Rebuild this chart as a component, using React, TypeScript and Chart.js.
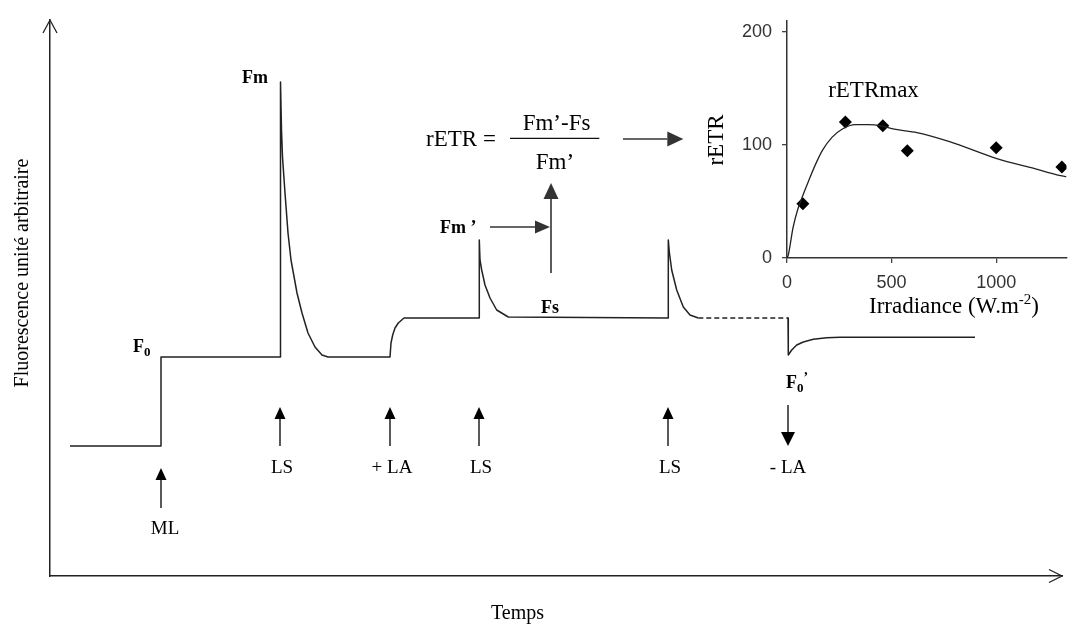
import React, { useEffect, useRef } from 'react';
import { Chart, registerables } from 'chart.js';

Chart.register(...registerables);

const SERIF = '"Liberation Serif", "Times New Roman", serif';
const SANS = '"Liberation Sans", Arial, sans-serif';

// ---------- main fluorescence trace (arbitrary time / arbitrary fluorescence units) ----------
const traceTime = [20, 111, 111, 230, 230.5, 231.5, 232.5, 235, 238, 241, 247, 252, 258, 265, 272, 278,
  340, 341, 342.7, 345, 348.3, 354, 429, 429.3, 430, 431.7, 435, 440, 446.7, 458.3,
  618, 618.3, 619.3, 621.7, 626.7, 633.3, 640, 648.3];
const traceFluo = [130, 130, 219, 219, 494, 446, 419, 383, 343, 316, 283, 263, 243, 229, 221, 219,
  219, 233, 241, 248, 253, 258, 258, 336, 316, 306, 291, 278, 266, 259,
  258, 336, 324, 306, 286, 269, 261, 258];

const darkTime = [648.3, 738];
const darkFluo = [258, 258];

const recoveryTime = [738, 738.3, 741.7, 746.7, 753.3, 763.3, 776.7, 790, 925];
const recoveryFluo = [258, 221, 226, 231, 234, 236.7, 238.3, 238.7, 238.7];

const eventTime = [111, 230, 340, 429, 618, 738];
const eventLabel = ['ML', 'LS', '+ LA', 'LS', 'LS', '- LA'];

// ---------- inset: rETR vs irradiance ----------
const irradiance = [76, 279, 458, 575, 1000, 1314];
const retrValues = [48, 120.5, 117, 95, 97.5, 80.5];
const fitIrradiance = [0, 6, 29, 53, 76, 107, 139, 170, 216, 263, 326, 388, 450, 513, 621, 777, 1003, 1167, 1307, 1336];
const fitRetr = [0, 2.6, 27, 44, 55.5, 70, 84, 95.5, 107, 114, 118, 118, 117, 114, 111, 103, 88, 80, 73, 72];
const insetXTicks = [0, 500, 1000];
const insetYTicks = [0, 100, 200];

const xy = (xs: number[], ys: number[]) => xs.map((x, i) => ({ x, y: ys[i] }));

function drawArrow(ctx: CanvasRenderingContext2D, x1: number, y1: number, x2: number, y2: number,
  len: number, half: number, color: string, lw: number) {
  const a = Math.atan2(y2 - y1, x2 - x1);
  const bx = x2 - len * Math.cos(a);
  const by = y2 - len * Math.sin(a);
  ctx.save();
  ctx.strokeStyle = color;
  ctx.fillStyle = color;
  ctx.lineWidth = lw;
  ctx.beginPath();
  ctx.moveTo(x1, y1);
  ctx.lineTo(bx, by);
  ctx.stroke();
  ctx.beginPath();
  ctx.moveTo(x2, y2);
  ctx.lineTo(bx + half * Math.sin(a), by - half * Math.cos(a));
  ctx.lineTo(bx - half * Math.sin(a), by + half * Math.cos(a));
  ctx.closePath();
  ctx.fill();
  ctx.restore();
}

function text(ctx: CanvasRenderingContext2D, s: string, x: number, y: number, font: string,
  align: CanvasTextAlign = 'center', color = '#000') {
  ctx.save();
  ctx.font = font;
  ctx.fillStyle = color;
  ctx.textAlign = align;
  ctx.textBaseline = 'alphabetic';
  ctx.fillText(s, x, y);
  const w = ctx.measureText(s).width;
  ctx.restore();
  return w;
}

const mainDecor = {
  id: 'mainDecor',
  afterDraw(chart: any) {
    const { ctx, chartArea, scales } = chart;
    const X = (v: number) => scales.x.getPixelForValue(v);
    const Y = (v: number) => scales.y.getPixelForValue(v);
    ctx.save();
    // axis arrow heads (open chevrons)
    ctx.strokeStyle = '#222';
    ctx.lineWidth = 1.3;
    ctx.beginPath();
    ctx.moveTo(chartArea.left - 7, chartArea.top + 13);
    ctx.lineTo(chartArea.left, chartArea.top);
    ctx.lineTo(chartArea.left + 7, chartArea.top + 13);
    ctx.moveTo(chartArea.right - 13, chartArea.bottom - 6.5);
    ctx.lineTo(chartArea.right, chartArea.bottom);
    ctx.lineTo(chartArea.right - 13, chartArea.bottom + 6.5);
    ctx.stroke();
    ctx.restore();

    // event arrows and labels
    const lf = `19px ${SERIF}`;
    eventTime.forEach((t, i) => {
      const lab = eventLabel[i];
      const px = X(t);
      if (lab === 'ML') {
        drawArrow(ctx, px, Y(68), px, Y(108), 12, 5.5, '#000', 1.3);
        text(ctx, lab, px + 4, Y(42), lf);
      } else if (lab.startsWith('-')) {
        drawArrow(ctx, px, Y(171), px, Y(130), 14, 7, '#000', 1.3);
        text(ctx, lab, px, Y(103.5), lf);
      } else {
        drawArrow(ctx, px, Y(130), px, Y(169), 12, 5.5, '#000', 1.3);
        text(ctx, lab, px + 2, Y(103.5), lf);
      }
    });

    const bf = `bold 18px ${SERIF}`;
    // Fm
    text(ctx, 'Fm', X(205), Y(493), bf);
    // F0
    let w = text(ctx, 'F', X(83), Y(224), bf, 'left');
    text(ctx, '0', X(83) + w, Y(220), `bold 13px ${SERIF}`, 'left');
    // Fm '
    text(ctx, 'Fm ’', X(390), Y(343), bf, 'left');
    // Fs
    text(ctx, 'Fs', X(500), Y(263), bf);
    // F0'
    w = text(ctx, 'F', X(736), Y(188), bf, 'left');
    const w2 = text(ctx, '0', X(736) + w, Y(184), `bold 13px ${SERIF}`, 'left');
    text(ctx, '’', X(736) + w + w2, Y(194), `bold 14px ${SERIF}`, 'left');

    // formula
    const ff = `23px ${SERIF}`;
    text(ctx, 'rETR =', X(411), Y(430), ff);
    text(ctx, 'Fm’-Fs', X(506.5), Y(446), ff);
    text(ctx, 'Fm’', X(505), Y(406.7), ff);
    ctx.save();
    ctx.strokeStyle = '#111';
    ctx.lineWidth = 1.3;
    ctx.beginPath();
    ctx.moveTo(X(460), Y(437.7));
    ctx.lineTo(X(549.3), Y(437.7));
    ctx.stroke();
    ctx.restore();

    drawArrow(ctx, X(573), Y(437), X(633.3), Y(437), 16, 7.5, '#333', 1.3);
    drawArrow(ctx, X(440), Y(349), X(500), Y(349), 15, 6.5, '#333', 1.3);
    drawArrow(ctx, X(501), Y(303), X(501), Y(393), 16, 7.5, '#333', 1.6);

    // axis titles
    ctx.save();
    ctx.translate(28, 273);
    ctx.rotate(-Math.PI / 2);
    ctx.font = `20px ${SERIF}`;
    ctx.fillStyle = '#000';
    ctx.textAlign = 'center';
    ctx.textBaseline = 'alphabetic';
    ctx.fillText('Fluorescence unité arbitraire', 0, 0);
    ctx.restore();
    text(ctx, 'Temps', 517.5, 619, `20px ${SERIF}`);
  },
};

const INSET_LEFT = 700;

const insetDecor = {
  id: 'insetDecor',
  afterDraw(chart: any) {
    const { ctx } = chart;
    const ox = -INSET_LEFT;
    // rETR (rotated axis title)
    ctx.save();
    ctx.translate(723 + ox, 140);
    ctx.rotate(-Math.PI / 2);
    ctx.font = `23px ${SERIF}`;
    ctx.fillStyle = '#000';
    ctx.textAlign = 'center';
    ctx.textBaseline = 'alphabetic';
    ctx.fillText('rETR', 0, 0);
    ctx.restore();
    // rETRmax
    text(ctx, 'rETRmax', 873.5 + ox, 97, `23px ${SERIF}`);
    // Irradiance (W.m-2)
    ctx.save();
    const f1 = `23px ${SERIF}`;
    const f2 = `15px ${SERIF}`;
    ctx.font = f1;
    const a = ctx.measureText('Irradiance (W.m').width;
    ctx.font = f2;
    const b = ctx.measureText('-2').width;
    ctx.font = f1;
    const c = ctx.measureText(')').width;
    const start = 954 + ox - (a + b + c) / 2;
    ctx.restore();
    text(ctx, 'Irradiance (W.m', start, 313, f1, 'left');
    text(ctx, '-2', start + a, 304, f2, 'left');
    text(ctx, ')', start + a + b, 313, f1, 'left');
  },
};

export default function App() {
  const mainRef = useRef<HTMLCanvasElement>(null);
  const insetRef = useRef<HTMLCanvasElement>(null);

  useEffect(() => {
    const main = new Chart(mainRef.current as HTMLCanvasElement, {
      type: 'line',
      data: {
        datasets: [
          { data: xy(traceTime, traceFluo), borderColor: '#222', borderWidth: 1.5, pointRadius: 0, tension: 0, borderJoinStyle: 'round' },
          { data: xy(darkTime, darkFluo), borderColor: '#222', borderWidth: 1.5, pointRadius: 0, borderDash: [5, 3] },
          { data: xy(recoveryTime, recoveryFluo), borderColor: '#222', borderWidth: 1.5, pointRadius: 0, tension: 0, borderJoinStyle: 'round' },
        ],
      } as any,
      options: {
        responsive: false,
        animation: false,
        events: [],
        layout: { padding: { top: 20, right: 11, left: 0, bottom: 0 } },
        plugins: { legend: { display: false }, tooltip: { enabled: false } },
        scales: {
          x: {
            type: 'linear', min: 0, max: 1012,
            ticks: { display: false },
            grid: { display: false },
            border: { display: true, color: '#222', width: 1.5 },
            afterFit: (s: any) => { s.height = 50; },
          },
          y: {
            type: 'linear', min: 0, max: 556,
            ticks: { display: false },
            grid: { display: false },
            border: { display: true, color: '#222', width: 1.5 },
            afterFit: (s: any) => { s.width = 50; },
          },
        },
      } as any,
      plugins: [mainDecor],
    });

    const inset = new Chart(insetRef.current as HTMLCanvasElement, {
      type: 'scatter',
      data: {
        datasets: [
          {
            data: xy(fitIrradiance, fitRetr), showLine: true, borderColor: '#222', borderWidth: 1.3,
            pointRadius: 0, cubicInterpolationMode: 'monotone',
          },
          {
            data: xy(irradiance, retrValues), showLine: false, pointStyle: 'rectRot', pointRadius: 6.5,
            backgroundColor: '#000', borderColor: '#000', borderWidth: 0,
          },
        ],
      } as any,
      options: {
        responsive: false,
        animation: false,
        events: [],
        layout: { padding: { top: 13, right: 0, left: 0, bottom: 0 } },
        plugins: { legend: { display: false }, tooltip: { enabled: false } },
        scales: {
          x: {
            type: 'linear', min: 0, max: 1336,
            afterBuildTicks: (s: any) => { s.ticks = insetXTicks.map((v) => ({ value: v })); },
            ticks: {
              font: { family: SANS, size: 18 }, color: '#333', padding: 9, maxRotation: 0, autoSkip: false,
              callback: (v: any) => String(v),
            },
            grid: { drawOnChartArea: false, drawTicks: true, tickLength: 5, color: '#444', lineWidth: 1.3 },
            border: { display: true, color: '#333', width: 1.5 },
            afterFit: (s: any) => { s.height = 67; },
          },
          y: {
            type: 'linear', min: 0, max: 210,
            afterBuildTicks: (s: any) => { s.ticks = insetYTicks.map((v) => ({ value: v })); },
            ticks: {
              font: { family: SANS, size: 18 }, color: '#333', padding: 10, autoSkip: false,
              callback: (v: any) => String(v),
            },
            grid: { drawOnChartArea: false, drawTicks: true, tickLength: 5, color: '#444', lineWidth: 1.3 },
            border: { display: true, color: '#333', width: 1.5 },
            afterFit: (s: any) => { s.width = 87; },
          },
        },
      } as any,
      plugins: [insetDecor],
    });

    return () => {
      main.destroy();
      inset.destroy();
    };
  }, []);

  return (
    <div style={{ position: 'fixed', left: 0, top: 0, width: 1073, height: 626, background: '#fff', overflow: 'hidden' }}>
      <canvas ref={mainRef} width={1073} height={626}
        style={{ position: 'absolute', left: 0, top: 0, width: 1073, height: 626 }} />
      <canvas ref={insetRef} width={373} height={325}
        style={{ position: 'absolute', left: INSET_LEFT, top: 0, width: 373, height: 325 }} />
    </div>
  );
}
